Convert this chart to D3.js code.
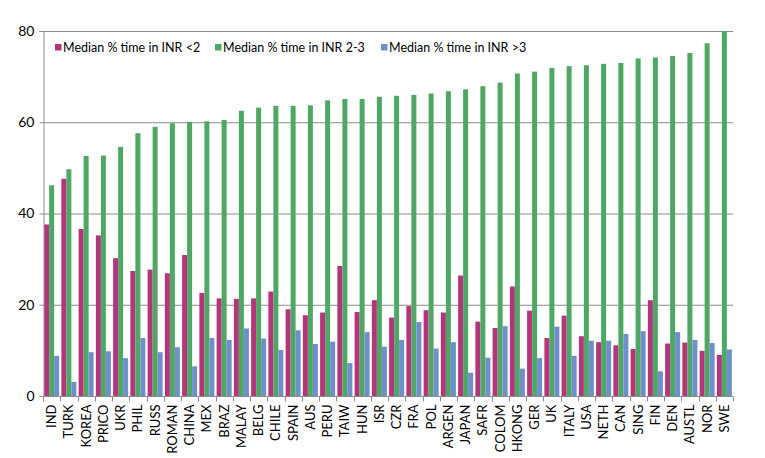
<!DOCTYPE html>
<html><head><meta charset="utf-8">
<script src="https://cdn.jsdelivr.net/npm/d3@7"></script>
<style>body{margin:0;background:#fff}svg{display:block}text{font-family:Lato,"Open Sans",sans-serif;fill:#000}</style>
</head><body><svg id="c" width="765" height="458"></svg>
<script>
const categories = ["IND","TURK","KOREA","PRICO","UKR","PHIL","RUSS","ROMAN","CHINA","MEX","BRAZ","MALAY","BELG","CHILE","SPAIN","AUS","PERU","TAIW","HUN","ISR","CZR","FRA","POL","ARGEN","JAPAN","SAFR","COLOM","HKONG","GER","UK","ITALY","USA","NETH","CAN","SING","FIN","DEN","AUSTL","NOR","SWE"];
const inrBelow2 = [37.6,47.6,36.6,35.2,30.2,27.4,27.7,26.9,30.9,22.6,21.4,21.3,21.4,22.9,19.0,17.7,18.3,28.5,18.4,21.0,17.2,19.7,18.8,18.3,26.4,16.3,14.9,24.0,18.7,12.7,17.6,13.1,11.8,11.1,10.3,21.0,11.5,11.7,9.9,9.0];
const inr2to3 = [46.2,49.7,52.6,52.7,54.6,57.6,59.0,59.8,60.1,60.2,60.5,62.5,63.2,63.6,63.6,63.7,64.8,65.1,65.1,65.6,65.8,66.0,66.3,66.8,67.2,67.9,68.7,70.7,71.1,71.9,72.3,72.5,72.8,73.0,74.0,74.2,74.5,75.2,77.3,80.0];
const inrAbove3 = [8.8,3.1,9.6,9.8,8.3,12.7,9.6,10.7,6.5,12.7,12.3,14.8,12.6,10.1,14.4,11.4,11.9,7.2,14.0,10.8,12.3,16.2,10.4,11.8,5.1,8.4,15.3,6.0,8.3,15.2,8.8,12.1,12.1,13.6,14.2,5.4,14.0,12.3,11.6,10.2];
const seriesNames = ["Median % time in INR <2","Median % time in INR 2-3","Median % time in INR >3"];
const colors = ["#b5347b","#4fa766","#6f8fca"];
const yTicks = [0,20,40,60,80];

const series = [inrBelow2, inr2to3, inrAbove3];
const svg = d3.select("#c");
const m = {l:43, r:32, t:31, b:62};
const W = 765, H = 458;
const x = d3.scaleBand().domain(categories).range([m.l, W-m.r]).paddingInner(0.13).paddingOuter(0.065);
const xs = d3.scaleBand().domain(d3.range(3)).range([0, x.bandwidth()]);
const y = d3.scaleLinear().domain([0,80]).range([H-m.b, m.t]);

// gridlines
svg.append("g").selectAll("line").data(yTicks.filter(d=>d>0)).join("line")
  .attr("x1", m.l).attr("x2", W-m.r).attr("y1", d=>y(d)+0.5).attr("y2", d=>y(d)+0.5)
  .attr("stroke", "#8c8c8c").attr("stroke-width", 1);

// bars
const groups = svg.append("g").selectAll("g").data(categories).join("g")
  .attr("transform", d=>`translate(${x(d)},0)`);
groups.selectAll("rect").data((d,i)=>series.map((s,k)=>({k, v:s[i]}))).join("rect")
  .attr("x", d=>xs(d.k)).attr("width", xs.bandwidth())
  .attr("y", d=>y(d.v)).attr("height", d=>y(0)-y(d.v))
  .attr("fill", d=>colors[d.k]);

// y axis
const ya = svg.append("g").attr("transform", `translate(${m.l+0.5},0)`)
  .call(d3.axisLeft(y).tickValues(yTicks).tickSize(4).tickPadding(5));
ya.select(".domain").attr("stroke", "#8c8c8c");
ya.selectAll(".tick line").attr("stroke", "#8c8c8c");
ya.selectAll("text").style("font-size", "14px").style("font-family", "Lato, sans-serif");

// x axis
const xa = svg.append("g").attr("transform", `translate(0,${y(0)+0.5})`);
xa.append("line").attr("x1", m.l).attr("x2", W-m.r).attr("stroke", "#8c8c8c");
const bounds = d3.range(categories.length+1).map(i => m.l + (W-m.r-m.l)*i/categories.length);
xa.selectAll("line.t").data(bounds).join("line").attr("class","t")
  .attr("x1", d=>Math.round(d)+0.5).attr("x2", d=>Math.round(d)+0.5).attr("y1", 0).attr("y2", 5)
  .attr("stroke", "#8c8c8c");
xa.selectAll("text").data(categories).join("text")
  .attr("transform", d=>`translate(${x(d)+x.bandwidth()/2+4.5},8) rotate(-90)`)
  .attr("text-anchor", "end").style("font-size", "13px").text(d=>d);

// legend
const legX = [55, 215, 381];
const leg = svg.append("g").selectAll("g").data(seriesNames).join("g")
  .attr("transform", (d,i)=>`translate(${legX[i]},44)`);
leg.append("rect").attr("width", 6.5).attr("height", 6.5).attr("fill", (d,i)=>colors[i]);
leg.append("text").attr("x", 8).attr("y", 8).style("font-size", "12.5px").text(d=>d);
</script></body></html>
